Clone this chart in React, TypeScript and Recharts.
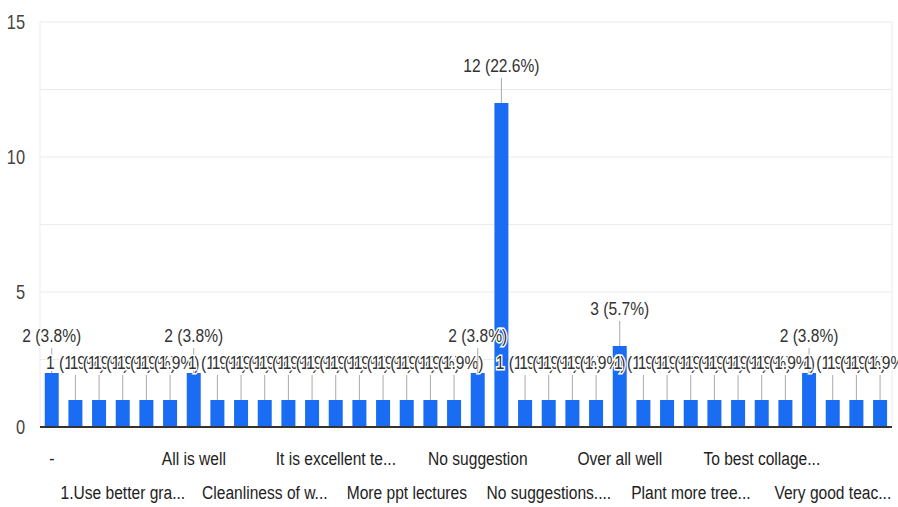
import { BarChart, Bar, XAxis, YAxis, CartesianGrid, LabelList } from 'recharts';

const categories = [
    '-', '.', '1. More practicals', '1.Use better gra...', 'Add more sports', 'All good',
    'All is well', 'Best college', 'Better infrastructure', 'Cleanliness of w...', 'Excellent', 'Good',
    'It is excellent te...', 'Keep it up', 'More practicals', 'More ppt lectures', 'Nice', 'No',
    'No suggestion', 'No suggestions', 'No suggestions at all', 'No suggestions....', 'Nothing', 'Ok',
    'Over all well', 'Overall good', 'Perfect', 'Plant more tree...', 'Satisfied', 'Teaching is good',
    'To best collage...', 'Upgrade labs', 'Very good', 'Very good teac...', 'Well', 'Yes',
];

const counts = [
    2, 1, 1, 1, 1, 1,
    2, 1, 1, 1, 1, 1,
    1, 1, 1, 1, 1, 1,
    2, 12, 1, 1, 1, 1,
    3, 1, 1, 1, 1, 1,
    1, 1, 2, 1, 1, 1,
];

const yTicks = [0, 2.5, 5, 7.5, 10, 12.5, 15];

// no narrow font installed, so squeeze Liberation Sans horizontally
const FONT = "'Liberation Sans', Arial, sans-serif";
const NARROW = 0.82;
const BLUE = '#1a6cf2';

const data = categories.map((name, i) => ({ name, count: counts[i] }));
const total = counts.reduce((a, b) => a + b, 0);

function NarrowText({ x, y, anchor = 'middle', size, fill, halo, children }: any) {
    return (
        <text
            transform={`translate(${x},${y}) scale(${NARROW},1)`}
            textAnchor={anchor}
            fontSize={size}
            fill={fill}
            fontFamily={FONT}
            stroke={halo ? '#fff' : 'none'}
            strokeWidth={halo ? 3 : 0}
            paintOrder="stroke"
        >
            {children}
        </text>
    );
}

function YTick({ x, y, payload }: any) {
    if (payload.value % 5 !== 0) return null;
    return (
        <NarrowText x={x} y={y + 7} anchor="end" size={20} fill="#444">
            {payload.value}
        </NarrowText>
    );
}

function XTick({ x, y, payload }: any) {
    const row = (categories.indexOf(payload.value) / 3) % 2;
    return (
        <NarrowText x={x} y={y + (row ? 72 : 38)} size={19} fill="#222">
            {payload.value}
        </NarrowText>
    );
}

function BarLabel({ x, y, width, value }: any) {
    const cx = x + width / 2;
    const pct = ((value / total) * 100).toFixed(1);
    return (
        <g>
            <line x1={cx} x2={cx} y1={y} y2={y - 25} stroke="#aaa" strokeWidth={1} />
            <NarrowText x={cx} y={y - 31} size={19} fill="#333" halo>
                {`${value} (${pct}%)`}
            </NarrowText>
        </g>
    );
}

export default function App() {
    return (
        <div style={{ position: 'absolute', left: 0, top: 0, background: '#fff' }}>
            <BarChart width={898} height={507} data={data} margin={{ top: 22, right: 6, bottom: 0, left: 0 }} barCategoryGap="20%">
                <CartesianGrid
                    stroke="#ebebeb"
                    verticalCoordinatesGenerator={({ offset }: any) => [offset.left, offset.left + offset.width]}
                />
                <XAxis
                    dataKey="name"
                    interval={2}
                    height={80}
                    tickLine={false}
                    tickSize={0}
                    tickMargin={0}
                    axisLine={{ stroke: '#333', strokeWidth: 2 }}
                    tick={<XTick />}
                />
                <YAxis
                    width={40}
                    domain={[0, 15]}
                    ticks={yTicks}
                    axisLine={false}
                    tickLine={false}
                    tickSize={0}
                    tickMargin={15}
                    tick={<YTick />}
                />
                <Bar dataKey="count" fill={BLUE} isAnimationActive={false}>
                    <LabelList dataKey="count" content={<BarLabel />} />
                </Bar>
            </BarChart>
        </div>
    );
}
